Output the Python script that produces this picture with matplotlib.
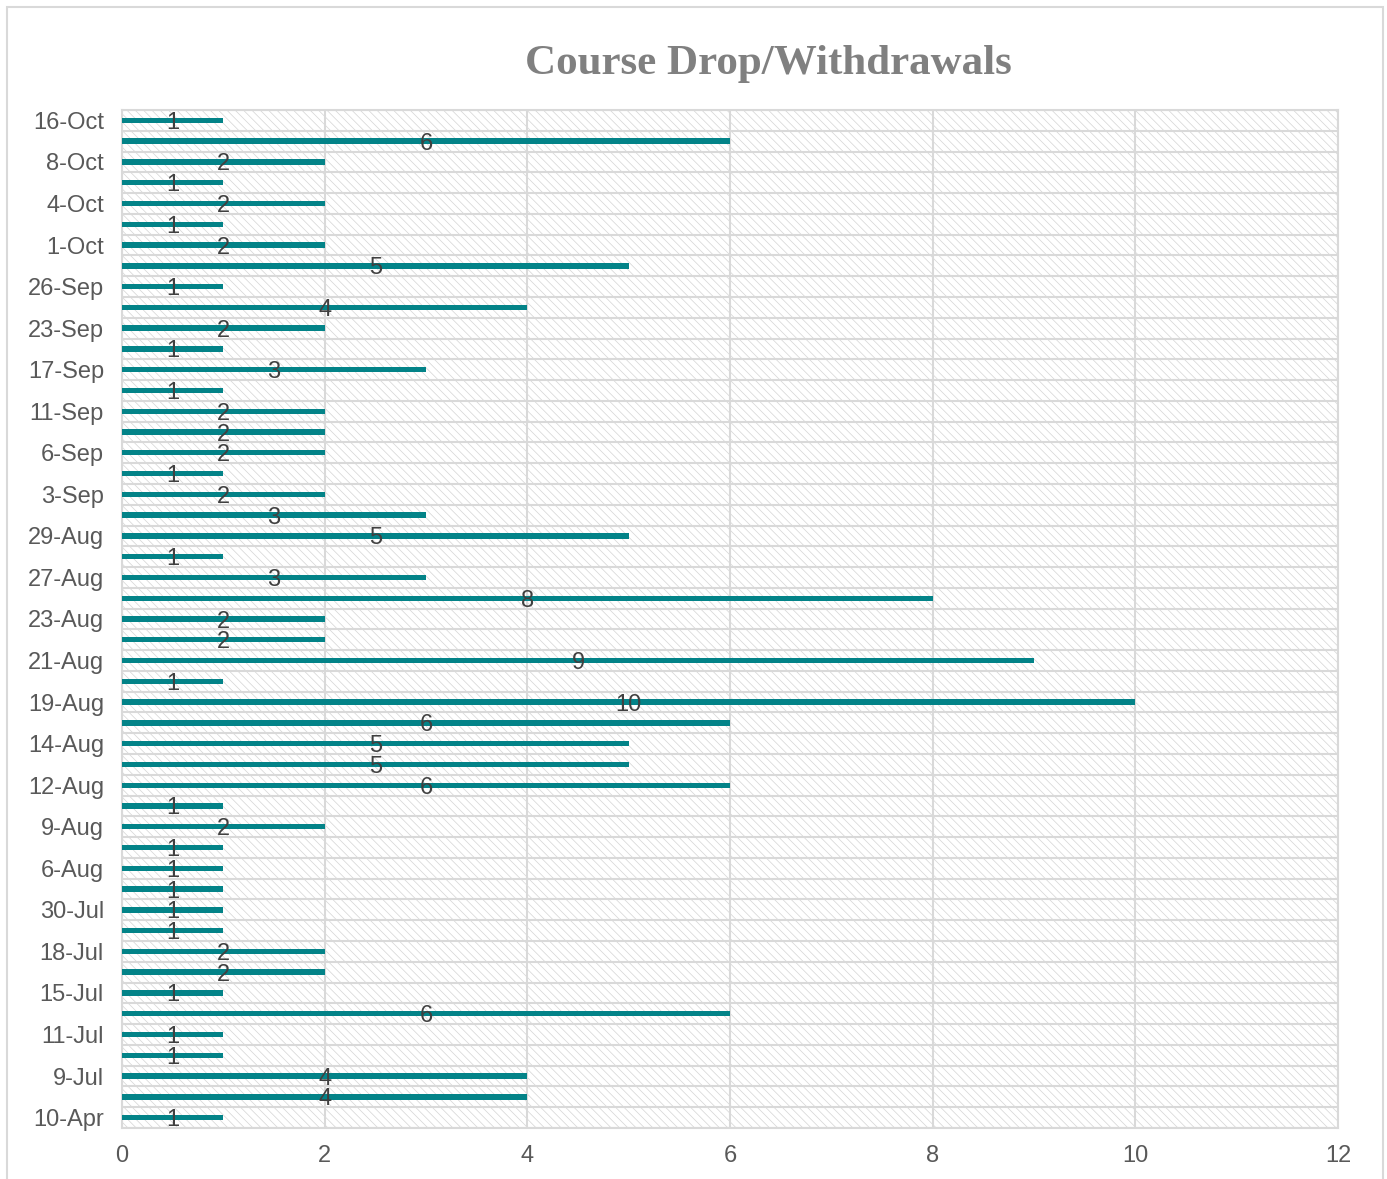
import numpy as np
import matplotlib
matplotlib.use("Agg")
import matplotlib.pyplot as plt
from matplotlib.patches import Rectangle

dates = [
    "10-Apr", "8-Jul", "9-Jul", "10-Jul", "11-Jul", "12-Jul", "15-Jul", "16-Jul",
    "18-Jul", "22-Jul", "30-Jul", "31-Jul", "6-Aug", "8-Aug", "9-Aug", "10-Aug",
    "12-Aug", "13-Aug", "14-Aug", "16-Aug", "19-Aug", "20-Aug", "21-Aug", "22-Aug",
    "23-Aug", "26-Aug", "27-Aug", "28-Aug", "29-Aug", "30-Aug", "3-Sep", "4-Sep",
    "6-Sep", "9-Sep", "11-Sep", "12-Sep", "17-Sep", "19-Sep", "23-Sep", "24-Sep",
    "26-Sep", "30-Sep", "1-Oct", "2-Oct", "4-Oct", "7-Oct", "8-Oct", "10-Oct",
    "16-Oct",
]
drops = [
    1, 4, 4, 1, 1, 6, 1, 2,
    2, 1, 1, 1, 1, 1, 2, 1,
    6, 5, 5, 6, 10, 1, 9, 2,
    2, 8, 3, 1, 5, 3, 2, 1,
    2, 2, 2, 1, 3, 1, 2, 4,
    1, 5, 2, 1, 2, 1, 2, 6,
    1,
]
x_ticks = [0, 2, 4, 6, 8, 10, 12]

plt.rcParams["font.family"] = ["Liberation Sans", "DejaVu Sans"]
plt.rcParams["hatch.linewidth"] = 0.5
plt.rcParams["hatch.color"] = "#d4d4d4"

fig = plt.figure(figsize=(13.87, 11.79), dpi=100)

# outer chart frame
fig.patches.append(Rectangle((7 / 1387, -0.02), (1383 - 7) / 1387, 1 - 7 / 1179 + 0.02,
                             transform=fig.transFigure, fill=False,
                             edgecolor="#d9d9d9", linewidth=1.5, zorder=0))

ax = fig.add_axes([122 / 1387, 1 - 1128 / 1179, (1338 - 122) / 1387, (1128 - 110) / 1179])

# hatched plot area
ax.add_patch(Rectangle((0, 0), 1, 1, transform=ax.transAxes, facecolor="white",
                       hatch="\\\\\\\\", edgecolor="#d4d4d4", linewidth=0, zorder=0))

y = np.arange(len(dates))
ax.barh(y, drops, height=0.26, color="#038388", zorder=3)

for yi, v in zip(y, drops):
    ax.text(v / 2, yi, str(v), ha="center", va="center_baseline", fontsize=17,
            color="#404040", zorder=4)

ax.set_xlim(0, 12)
ax.set_ylim(-0.5, len(dates) - 0.5)
ax.set_xticks(x_ticks)
ax.set_xticklabels([str(t) for t in x_ticks])
ax.set_yticks(y[::2])
ax.set_yticklabels(dates[::2])
ax.set_yticks(np.arange(-0.5, len(dates), 1), minor=True)

ax.tick_params(axis="both", which="both", length=0, labelsize=17, labelcolor="#595959")
ax.tick_params(axis="x", pad=12)
ax.tick_params(axis="y", pad=13)

ax.grid(axis="x", which="major", color="#d9d9d9", linewidth=1.5, zorder=1)
ax.grid(axis="y", which="minor", color="#d9d9d9", linewidth=1.5, zorder=1)
ax.grid(axis="y", which="major", visible=False)
ax.set_axisbelow(True)
for s in ax.spines.values():
    s.set_color("#d9d9d9")
    s.set_linewidth(1.5)

fig.text(768 / 1387, 1 - 64 / 1179, "Course Drop/Withdrawals", ha="center", va="center",
         fontsize=31, fontweight="bold", color="#808080",
         family=["Liberation Serif", "DejaVu Serif"])

fig.savefig("out.png", dpi=100, facecolor="white")
